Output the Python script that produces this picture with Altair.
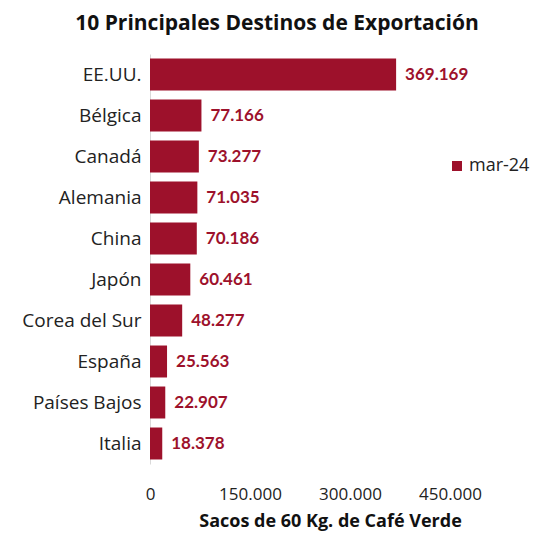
import altair as alt
import pandas as pd

paises = ["EE.UU.", "Bélgica", "Canadá", "Alemania", "China", "Japón",
          "Corea del Sur", "España", "Países Bajos", "Italia"]
valores = [369169, 77166, 73277, 71035, 70186, 60461, 48277, 25563, 22907, 18378]
serie = "mar-24"
ticks = [0, 150000, 300000, 450000]

df = pd.DataFrame({"pais": paises, "valor": valores})
df["serie"] = serie
df["etiqueta"] = [f"{v:,}".replace(",", ".") for v in valores]

color = "#9D112B"
font = "Open Sans"

base = alt.Chart(df).encode(
    y=alt.Y("pais:N", sort=paises, title=None,
            scale=alt.Scale(paddingInner=0.22, paddingOuter=0.11),
            axis=alt.Axis(labelFontSize=19, labelColor="#222", labelFont=font,
                          labelPadding=9, ticks=False, domain=True,
                          domainColor="#d9d9d9", domainWidth=1)),
)

bars = base.mark_bar(color=color).encode(
    x=alt.X("valor:Q", title="Sacos de 60 Kg. de Café Verde",
            scale=alt.Scale(domain=[0, 450000], nice=False),
            axis=alt.Axis(values=ticks, grid=False, ticks=False, domain=False,
                          labelFlush=False,
                          labelExpr="replace(format(datum.value, ','), ',', '.')",
                          labelFontSize=17, labelColor="#222", labelFont=font,
                          labelPadding=22,
                          titleFontSize=18, titleFontWeight="bold", titleFont=font,
                          titleColor="#111", titlePadding=10, titleX=180)),
    color=alt.Color("serie:N", scale=alt.Scale(range=[color]), title=None,
                    legend=alt.Legend(orient="none", legendX=298, legendY=103,
                                      symbolType="square", symbolSize=100,
                                      labelOffset=3,
                                      labelFontSize=18, labelFont=font,
                                      labelColor="#222", symbolOpacity=1)),
)

labels = base.mark_text(align="left", baseline="middle", dx=9, fontSize=17,
                        fontWeight="bold", font="Lato", color=color).encode(
    x="valor:Q", text="etiqueta:N")

chart = (bars + labels).properties(
    width=300, height=410,
    title=alt.TitleParams("10 Principales Destinos de Exportación", fontSize=21,
                          font=font, fontWeight="bold", color="#111",
                          anchor="middle", dx=-23, offset=20),
    autosize=alt.AutoSizeParams(type="none"),
    padding={"left": 142, "top": 46, "right": 84, "bottom": 71},
).configure_view(stroke=None)

chart.save("out.html", embed_options={"renderer": "svg", "actions": False})
